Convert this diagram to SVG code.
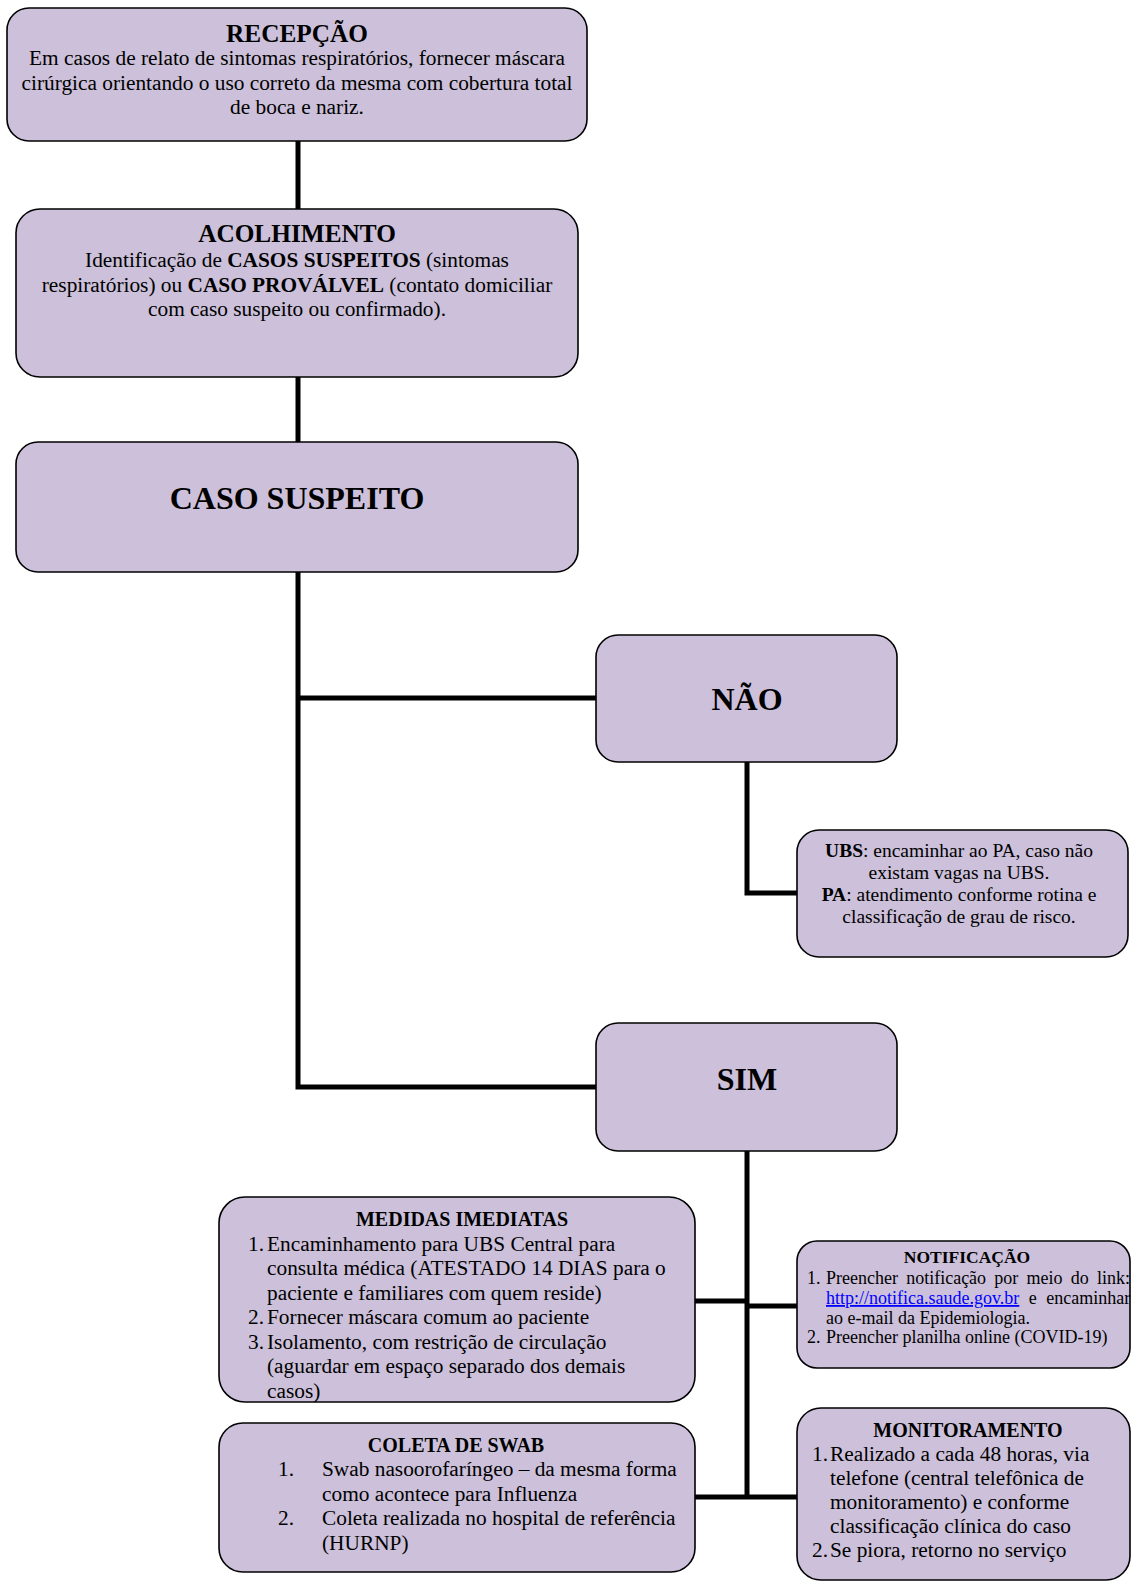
<svg xmlns="http://www.w3.org/2000/svg" width="1131" height="1583" viewBox="0 0 1131 1583">
<style>
.box{fill:#CCC0DA;stroke:#000;stroke-width:1.6}
.conn{fill:none;stroke:#000;stroke-width:5;stroke-linejoin:miter}
text{font-family:"Liberation Serif","Times New Roman",serif;fill:#000}
.t{font-weight:bold;font-size:25.3px;text-anchor:middle}
.b{font-size:21.33px}
.c{text-anchor:middle}
.big{font-weight:bold;font-size:32px;text-anchor:middle}
.st{font-weight:bold;font-size:20px;text-anchor:middle}
.s{font-size:19.5px;text-anchor:middle}
.n{font-size:18px}
.bold{font-weight:bold}
.link{fill:#0000FF;text-decoration:underline}
</style>
<rect width="1131" height="1583" fill="#fff"/>
<g id="connectors">
<path class="conn" d="M298 141 V209"/>
<path class="conn" d="M298 377 V442"/>
<path class="conn" d="M298 572 V1087 H596"/>
<path class="conn" d="M298 698 H596"/>
<path class="conn" d="M747 762 V893 H797"/>
<path class="conn" d="M747 1151 V1499"/>
<path class="conn" d="M695 1301 H747"/>
<path class="conn" d="M747 1306 H797"/>
<path class="conn" d="M695 1497 H797"/>
</g>
<g id="recepcao">
<rect class="box" x="7" y="8" width="580" height="133" rx="22"/>
<text class="t" x="297" y="42">RECEPÇÃO</text>
<text class="b c" x="297" y="65">Em casos de relato de sintomas respiratórios, fornecer máscara</text>
<text class="b c" x="297" y="89.5">cirúrgica orientando o uso correto da mesma com cobertura total</text>
<text class="b c" x="297" y="114">de boca e nariz.</text>
</g>
<g id="acolhimento">
<rect class="box" x="16" y="209" width="562" height="168" rx="24"/>
<text class="t" x="297" y="242">ACOLHIMENTO</text>
<text class="b c" x="297" y="267">Identificação de <tspan class="bold">CASOS SUSPEITOS</tspan> (sintomas</text>
<text class="b c" x="297" y="291.5">respiratórios) ou <tspan class="bold">CASO PROVÁLVEL</tspan> (contato domiciliar</text>
<text class="b c" x="297" y="316">com caso suspeito ou confirmado).</text>
</g>
<g id="caso-suspeito">
<rect class="box" x="16" y="442" width="562" height="130" rx="22"/>
<text class="big" x="297" y="509">CASO SUSPEITO</text>
</g>
<g id="nao">
<rect class="box" x="596" y="635" width="301" height="127" rx="22"/>
<text class="big" x="747" y="710">NÃO</text>
</g>
<g id="nao-detalhe">
<rect class="box" x="797" y="830" width="331" height="127" rx="22"/>
<text class="s" x="959" y="857"><tspan class="bold">UBS</tspan>: encaminhar ao PA, caso não</text>
<text class="s" x="959" y="879">existam vagas na UBS.</text>
<text class="s" x="959" y="901"><tspan class="bold">PA</tspan>: atendimento conforme rotina e</text>
<text class="s" x="959" y="923">classificação de grau de risco.</text>
</g>
<g id="sim">
<rect class="box" x="596" y="1023" width="301" height="128" rx="22"/>
<text class="big" x="747" y="1090">SIM</text>
</g>
<g id="medidas-imediatas">
<rect class="box" x="219" y="1197" width="476" height="205" rx="26"/>
<text class="st" x="462" y="1226">MEDIDAS IMEDIATAS</text>
<text class="b" x="248" y="1250.5">1.</text>
<text class="b" x="267" y="1250.5">Encaminhamento para UBS Central para</text>
<text class="b" x="267" y="1275">consulta médica (ATESTADO 14 DIAS para o</text>
<text class="b" x="267" y="1299.5">paciente e familiares com quem reside)</text>
<text class="b" x="248" y="1324">2.</text>
<text class="b" x="267" y="1324">Fornecer máscara comum ao paciente</text>
<text class="b" x="248" y="1348.5">3.</text>
<text class="b" x="267" y="1348.5">Isolamento, com restrição de circulação</text>
<text class="b" x="267" y="1373">(aguardar em espaço separado dos demais</text>
<text class="b" x="267" y="1397.5">casos)</text>
</g>
<g id="notificacao">
<rect class="box" x="797" y="1241" width="333" height="127" rx="20"/>
<text class="bold" x="967" y="1263" text-anchor="middle" font-size="17.5">NOTIFICAÇÃO</text>
<text class="n" x="807" y="1284">1.</text>
<text class="n" x="826" y="1284" word-spacing="3.7">Preencher notificação por meio do link:</text>
<text class="n" x="826" y="1304" word-spacing="5"><tspan class="link">http://notifica.saude.gov.br</tspan> e encaminhar</text>
<text class="n" x="826" y="1323.5">ao e-mail da Epidemiologia.</text>
<text class="n" x="807" y="1343">2.</text>
<text class="n" x="826" y="1343">Preencher planilha online (COVID-19)</text>
</g>
<g id="coleta-swab">
<rect class="box" x="219" y="1423" width="476" height="149" rx="24"/>
<text class="st" x="456" y="1452">COLETA DE SWAB</text>
<text class="b" x="278" y="1476">1.</text>
<text class="b" x="322" y="1476">Swab nasoorofaríngeo – da mesma forma</text>
<text class="b" x="322" y="1500.5">como acontece para Influenza</text>
<text class="b" x="278" y="1525">2.</text>
<text class="b" x="322" y="1525">Coleta realizada no hospital de referência</text>
<text class="b" x="322" y="1549.5">(HURNP)</text>
</g>
<g id="monitoramento">
<rect class="box" x="797" y="1408" width="333" height="172" rx="24"/>
<text class="st" x="968" y="1437">MONITORAMENTO</text>
<text class="b" x="812" y="1461">1.</text>
<text class="b" x="830" y="1461">Realizado a cada 48 horas, via</text>
<text class="b" x="830" y="1485">telefone (central telefônica de</text>
<text class="b" x="830" y="1509">monitoramento) e conforme</text>
<text class="b" x="830" y="1533">classificação clínica do caso</text>
<text class="b" x="812" y="1557">2.</text>
<text class="b" x="830" y="1557">Se piora, retorno no serviço</text>
</g>
</svg>
